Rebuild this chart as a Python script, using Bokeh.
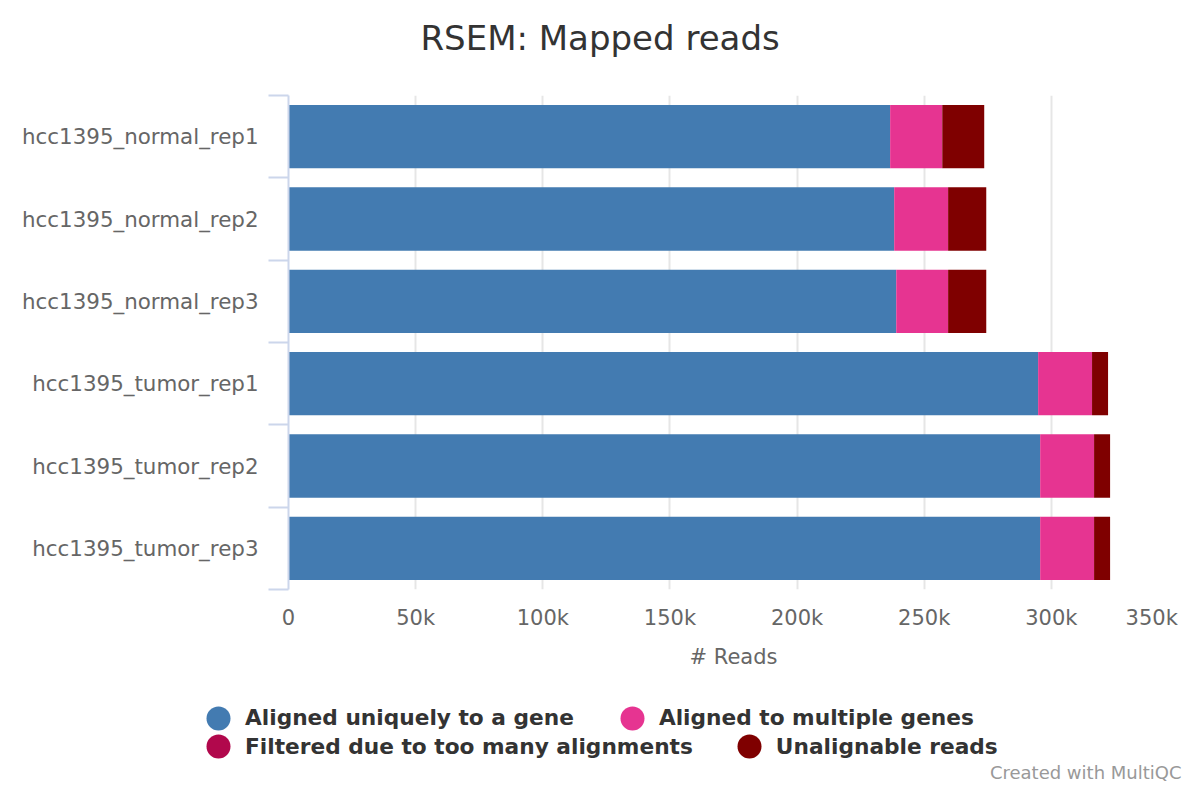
import numpy as np
from bokeh.plotting import figure
from bokeh.layouts import column
from bokeh.models import (Range1d, FixedTicker, Legend, LegendItem, Label,
                          LinearAxis, ColumnDataSource)
from bokeh.embed import file_html
from bokeh.resources import INLINE

# ---------------- data ----------------
samples = [
    "hcc1395_normal_rep1",
    "hcc1395_normal_rep2",
    "hcc1395_normal_rep3",
    "hcc1395_tumor_rep1",
    "hcc1395_tumor_rep2",
    "hcc1395_tumor_rep3",
]
aligned_unique = [236600, 238200, 239000, 294800, 295600, 295600]
aligned_multi = [20500, 21200, 20400, 21200, 21200, 21200]
filtered = [0, 0, 0, 0, 0, 0]
unalignable = [16500, 15000, 15000, 6300, 6300, 6300]

series_keys = ["unique", "multi", "filtered", "unalignable"]
series_names = [
    "Aligned uniquely to a gene",
    "Aligned to multiple genes",
    "Filtered due to too many alignments",
    "Unalignable reads",
]
series_colors = ["#437bb1", "#e63491", "#b1084c", "#7f0000"]

x_ticks = [0, 50000, 100000, 150000, 200000, 250000, 300000, 350000]
x_tick_labels = ["0", "50k", "100k", "150k", "200k", "250k", "300k", "350k"]

title_text = "RSEM: Mapped reads"
x_title = "# Reads"
credit_text = "Created with MultiQC"

FONT = "DejaVu Sans"

W = 1184
H_MAIN = 671
H_LEG = 113

# ---------------- main chart ----------------
n = len(samples)
y_centers = [i + 0.5 for i in range(n)]
y_edges = list(range(n + 1))

p = figure(
    width=W, height=H_MAIN,
    output_backend="svg", toolbar_location=None,
    x_range=Range1d(x_ticks[0], x_ticks[-1]),
    y_range=Range1d(n, 0),
    min_border_left=288, min_border_right=6,
    min_border_top=95, min_border_bottom=82,
)
p.outline_line_color = None
p.background_fill_color = "white"
p.border_fill_color = "white"

p.title.text = title_text
p.title.align = "left"
p.title.offset = 132
p.title.text_font = FONT
p.title.text_font_size = "34px"
p.title.text_font_style = "normal"
p.title.text_color = "#333333"
p.title.standoff = 10
p.title.vertical_align = "bottom"

xa = p.below[0]
ya = p.left[0]

# empty space between the title and the plot area (an invisible axis)
gap = LinearAxis(ticker=FixedTicker(ticks=[x_ticks[0]]), axis_line_color=None,
                 major_tick_out=33, major_tick_in=0,
                 major_tick_line_color=None,
                 minor_tick_out=0, minor_tick_in=0,
                 major_label_standoff=0,
                 major_label_text_font_size="1px",
                 major_label_overrides={x_ticks[0]: ""})
p.add_layout(gap, "above")

src = ColumnDataSource(dict(
    y=y_centers,
    unique=aligned_unique,
    multi=aligned_multi,
    filtered=filtered,
    unalignable=unalignable,
))
p.hbar_stack(series_keys, y="y", height=0.77, fill_color=series_colors,
             line_color=None, source=src)

# grid
p.ygrid.visible = False
p.xgrid.ticker = FixedTicker(ticks=x_ticks)
p.xgrid.grid_line_color = "#e6e6e6"
p.xgrid.grid_line_width = 2

# y axis
ya.ticker = FixedTicker(ticks=y_centers, minor_ticks=y_edges)
ya.major_label_overrides = {y: s for y, s in zip(y_centers, samples)}
ya.major_tick_out = 0
ya.major_tick_in = 0
ya.minor_tick_out = 20
ya.minor_tick_in = 0
ya.minor_tick_line_color = "#ccd6eb"
ya.minor_tick_line_width = 2
ya.axis_line_color = "#ccd6eb"
ya.axis_line_width = 2
ya.major_label_standoff = 10
ya.major_label_text_font = FONT
ya.major_label_text_font_size = "21.4px"
ya.major_label_text_color = "#666666"

# x axis (last label pulled inside the chart, as in the original)
xa.ticker = FixedTicker(ticks=x_ticks)
labels_x = list(x_tick_labels)
labels_x[-1] = labels_x[-1] + "\u00a0"
xa.major_label_overrides = {t: l for t, l in zip(x_ticks, labels_x)}
xa.axis_line_color = None
xa.major_tick_out = 0
xa.major_tick_in = 0
xa.minor_tick_out = 0
xa.minor_tick_in = 0
xa.major_label_standoff = 16
xa.major_label_text_font = FONT
xa.major_label_text_font_size = "21px"
xa.major_label_text_color = "#666666"
xa.axis_label = x_title
xa.axis_label_text_font = FONT
xa.axis_label_text_font_size = "21px"
xa.axis_label_text_font_style = "normal"
xa.axis_label_text_color = "#666666"
xa.axis_label_standoff = 12

# ---------------- legend strip ----------------
lf = figure(
    frame_width=W, frame_height=H_LEG,
    output_backend="svg", toolbar_location=None,
    x_range=Range1d(0, W), y_range=Range1d(0, H_LEG),
    x_axis_type=None, y_axis_type=None,
    min_border=0, min_border_left=0, min_border_right=0,
    min_border_top=0, min_border_bottom=0,
)
if "frame_align" in lf.properties():
    lf.frame_align = False
lf.outline_line_color = None
lf.background_fill_color = "white"
lf.border_fill_color = "white"

# round legend swatches (not drawn in the strip itself)
swatches = [lf.ellipse(x=[np.nan], y=[np.nan], width=1, height=1,
                       width_units="screen", height_units="screen",
                       fill_color=c, line_color=None)
            for c in series_colors]


def make_legend(idx, loc, spacing):
    return Legend(
        items=[LegendItem(label=series_names[i], renderers=[swatches[i]]) for i in idx],
        location=loc, orientation="horizontal",
        glyph_width=30, glyph_height=30, label_standoff=12, spacing=spacing,
        padding=0, margin=0, border_line_color=None, background_fill_alpha=0,
        label_text_font=FONT, label_text_font_size="21.7px",
        label_text_font_style="bold", label_text_color="#333333",
    )


lf.add_layout(make_legend([0, 1], (203, 51.5), 43), "center")
lf.add_layout(make_legend([2, 3], (203, 23), 41), "center")

lf.add_layout(Label(x=W - 3, y=12, text=credit_text,
                    text_align="right", text_baseline="middle",
                    text_font=FONT, text_font_size="18px",
                    text_color="#999999"))

layout = column(p, lf, spacing=0)
open("out.html", "w").write(file_html(layout, INLINE))
